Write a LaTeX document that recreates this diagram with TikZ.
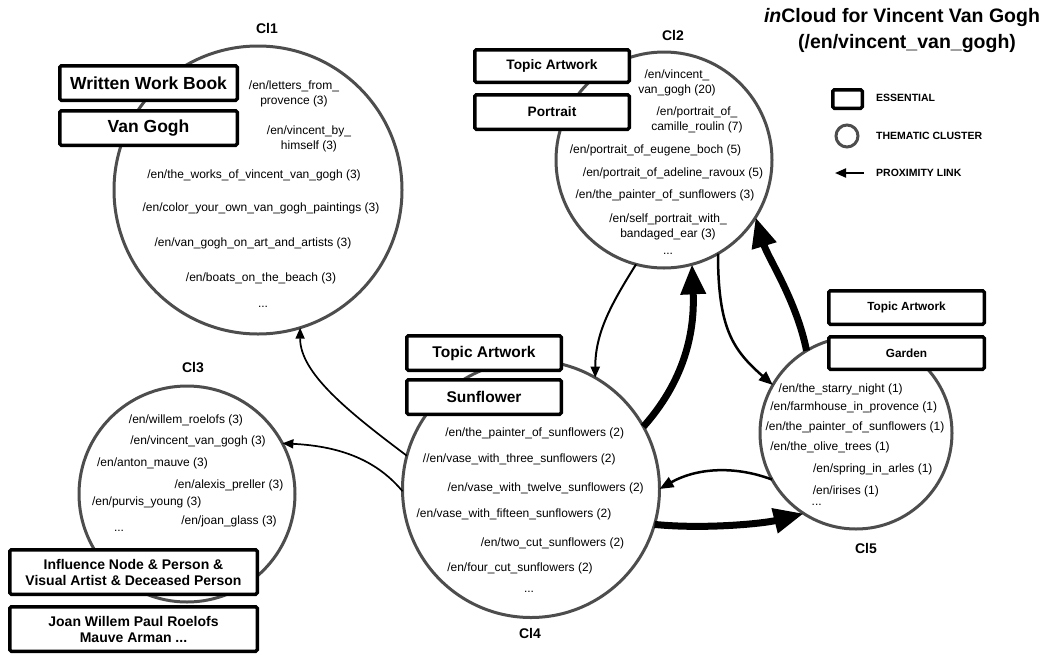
\documentclass[tikz,border=0pt]{standalone}
\usepackage{fontspec}
\setmainfont{Liberation Sans}
\usetikzlibrary{arrows.meta}
\definecolor{cg}{HTML}{4D4D4D}
\tikzset{
  cluster/.style={circle, draw=cg, line width=3pt, inner sep=0pt, outer sep=0pt},
  ess/.style={draw=black, line width=3.5pt, fill=white, rounded corners=1.5pt, inner sep=0pt, outer sep=0pt, align=center},
  item/.style={font=\fontsize{12}{14.5}\selectfont, inner sep=0pt, align=center},
  clab/.style={font=\fontsize{14}{16}\selectfont\bfseries, inner sep=0pt},
  legtxt/.style={font=\fontsize{10.5}{12}\selectfont\bfseries, inner sep=0pt, anchor=west},
  lnkthin/.style={line width=1.7pt, -{Triangle[length=11pt,width=9pt]}},
  lnkmid/.style={line width=2.5pt, -{Triangle[length=14pt,width=11pt]}},
  lnkthick/.style={line width=7pt, -{Triangle[length=30pt,width=24pt]}},
}
\begin{document}
\begin{tikzpicture}[x=1pt,y=-1pt]
\useasboundingbox (0,0) rectangle (1052,654);

% clusters
\node[cluster, minimum size=288pt] (c1) at (258,190) {};
\node[cluster, minimum size=216pt] (c2) at (664,160) {};
\node[cluster, minimum size=216pt] (c3) at (187,494) {};
\node[cluster, minimum size=257pt] (c4) at (531,489) {};
\node[cluster, minimum size=192pt] (c5) at (856,433) {};

% cluster labels
\node[clab] (l1) at (267,28) {Cl1};
\node[clab] (l2) at (673,35) {Cl2};
\node[clab] (l3) at (193,367) {Cl3};
\node[clab] (l4) at (530,633) {Cl4};
\node[clab] (l5) at (866,548) {Cl5};

% essential boxes
\node[ess, font=\fontsize{17.5}{20}\selectfont\bfseries, minimum width=177.5pt, minimum height=34.5pt] (b1a) at (148.5,83) {Written Work Book};
\node[ess, font=\fontsize{17.5}{20}\selectfont\bfseries, minimum width=177.5pt, minimum height=34.5pt] (b1b) at (148.5,128) {Van Gogh};
\node[ess, font=\fontsize{13.7}{16}\selectfont\bfseries, minimum width=154.5pt, minimum height=32.5pt] (b2a) at (552,66) {Topic Artwork};
\node[ess, font=\fontsize{13.7}{16}\selectfont\bfseries, minimum width=154.5pt, minimum height=34.5pt] (b2b) at (552,112) {Portrait};
\node[ess, font=\fontsize{15.5}{18}\selectfont\bfseries, minimum width=154.5pt, minimum height=34.5pt] (b4a) at (484,353) {Topic Artwork};
\node[ess, font=\fontsize{15.5}{18}\selectfont\bfseries, minimum width=154.5pt, minimum height=34.5pt] (b4b) at (484,397) {Sunflower};
\node[ess, font=\fontsize{11.8}{14}\selectfont\bfseries, minimum width=155.5pt, minimum height=33.5pt] (b5a) at (906.5,307.5) {Topic Artwork};
\node[ess, font=\fontsize{11.8}{14}\selectfont\bfseries, minimum width=155.5pt, minimum height=32.5pt] (b5b) at (906.5,353) {Garden};
\node[ess, font=\fontsize{14}{16}\selectfont\bfseries, minimum width=247.5pt, minimum height=44.5pt] (b3a) at (133.5,572) {Influence Node \& Person \&\\Visual Artist \& Deceased Person};
\node[ess, font=\fontsize{14}{16}\selectfont\bfseries, minimum width=247.5pt, minimum height=44.5pt] (b3b) at (133.5,629) {Joan Willem Paul Roelofs\\Mauve Arman ...};

% Cl1 items
\node[item, font=\fontsize{12}{15}\selectfont] (t11) at (294,94) {/en/letters\_from\_\\provence (3)};
\node[item, font=\fontsize{12}{15}\selectfont] (t12) at (309,139) {/en/vincent\_by\_\\himself (3)};
\node[item] (t13) at (254,175) {/en/the\_works\_of\_vincent\_van\_gogh (3)};
\node[item] (t14) at (261,208) {/en/color\_your\_own\_van\_gogh\_paintings (3)};
\node[item] (t15) at (253,243) {/en/van\_gogh\_on\_art\_and\_artists (3)};
\node[item] (t16) at (261,278) {/en/boats\_on\_the\_beach (3)};
\node[item] (t17) at (263,307) {...};

% Cl2 items
\node[item] (t21) at (677,83) {/en/vincent\_\\van\_gogh (20)};
\node[item] (t22) at (697,120) {/en/portrait\_of\_\\camille\_roulin (7)};
\node[item] (t23) at (655.5,150) {/en/portrait\_of\_eugene\_boch (5)};
\node[item] (t24) at (673,173) {/en/portrait\_of\_adeline\_ravoux (5)};
\node[item] (t25) at (665,195) {/en/the\_painter\_of\_sunflowers (3)};
\node[item] (t26) at (668,227) {/en/self\_portrait\_with\_\\bandaged\_ear (3)};
\node[item] (t27) at (668,254) {...};

% Cl3 items
\node[item] (t31) at (186,420) {/en/willem\_roelofs (3)};
\node[item] (t32) at (198,441) {/en/vincent\_van\_gogh (3)};
\node[item] (t33) at (152.5,463) {/en/anton\_mauve (3)};
\node[item] (t34) at (229,485) {/en/alexis\_preller (3)};
\node[item] (t35) at (146.7,502) {/en/purvis\_young (3)};
\node[item] (t36) at (229,521) {/en/joan\_glass (3)};
\node[item] (t37) at (119,531) {...};

% Cl4 items
\node[item] (t41) at (534.7,433) {/en/the\_painter\_of\_sunflowers (2)};
\node[item] (t42) at (519.3,459) {//en/vase\_with\_three\_sunflowers (2)};
\node[item] (t43) at (545.7,488) {/en/vase\_with\_twelve\_sunflowers (2)};
\node[item] (t44) at (514,514) {/en/vase\_with\_fifteen\_sunflowers (2)};
\node[item] (t45) at (552.5,543) {/en/two\_cut\_sunflowers (2)};
\node[item] (t46) at (520,568) {/en/four\_cut\_sunflowers (2)};
\node[item] (t47) at (529,592) {...};

% Cl5 items
\node[item] (t51) at (840.7,389) {/en/the\_starry\_night (1)};
\node[item] (t52) at (853.7,407) {/en/farmhouse\_in\_provence (1)};
\node[item] (t53) at (855,427) {/en/the\_painter\_of\_sunflowers (1)};
\node[item] (t54) at (830,447) {/en/the\_olive\_trees (1)};
\node[item] (t55) at (872.8,469) {/en/spring\_in\_arles (1)};
\node[item] (t56) at (845.8,491) {/en/irises (1)};
\node[item] (t57) at (816.7,505) {...};

% proximity links
\draw[lnkthin] (c4.165) .. controls +(-60,-45) and +(0,45) .. (c1.-73);
\draw[lnkthin] (c4.181) .. controls +(-25,-30) and +(60,3) .. (c3.28);
\draw[lnkthin, line width=2pt] (c2.-105) .. controls +(-25,40) and +(0,-45) .. (c4.60);
\draw[lnkthick] (c4.29) .. controls +(40,-45) and +(3,70) .. (c2.-75);
\draw[lnkmid] (c2.-60) .. controls +(0,75) and +(-40,-35) .. (c5.150);
\draw[lnkthick] (c5.121) .. controls +(-10,-50) and +(12,40) .. (c2.-32);
\draw[lnkmid] (c5.209) .. controls +(-40,-15) and +(35,-20) .. (c4.0);
\draw[lnkthick] (c4.-16) .. controls +(50,5) and +(-40,10) .. (c5.237);

% title
\node[inner sep=0pt, font=\fontsize{19.5}{22}\selectfont\bfseries] (ttl1) at (902,17) {\textit{in}Cloud for Vincent Van Gogh};
\node[inner sep=0pt, font=\fontsize{19.5}{22}\selectfont\bfseries] (ttl2) at (907,43) {(/en/vincent\_van\_gogh)};

% legend
\node[ess, minimum width=29.5pt, minimum height=18.5pt] (lgess) at (847.5,99) {};
\node[cluster, minimum size=22pt] (lgcl) at (847,136) {};
\coordinate (lga) at (864,173);
\coordinate (lgb) at (835,173);
\draw[lnkthin, line width=2pt] (lga) -- (lgb);
\node[legtxt] (lgt1) at (876,98) {ESSENTIAL};
\node[legtxt] (lgt2) at (876,136) {THEMATIC CLUSTER};
\node[legtxt] (lgt3) at (876,173) {PROXIMITY LINK};
\end{tikzpicture}
\end{document}
